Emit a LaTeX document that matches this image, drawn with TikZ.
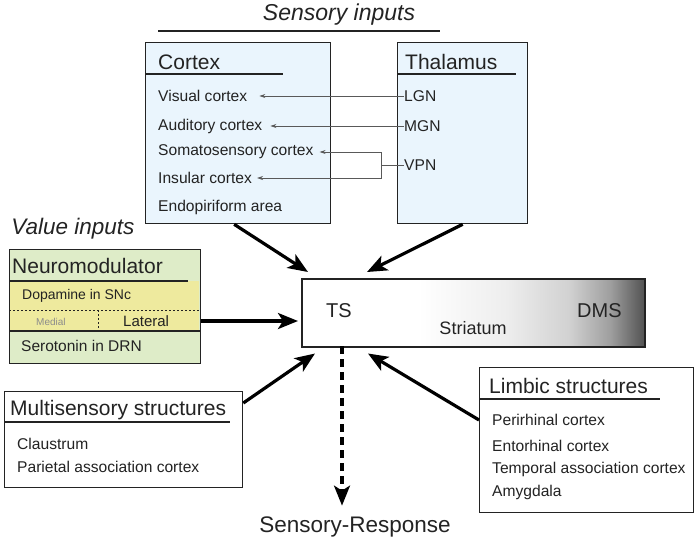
\documentclass[tikz,border=0pt]{standalone}
\usepackage{fontspec}
\setmainfont{Liberation Sans}
\usetikzlibrary{arrows.meta}
\definecolor{cortexblue}{RGB}{234,245,253}
\definecolor{modgreen}{RGB}{222,236,200}
\definecolor{dayellow}{RGB}{238,234,158}
\definecolor{inkgray}{RGB}{35,35,35}
\pgfdeclarehorizontalshading{striatumshade}{100bp}{color(0bp)=(white); color(42bp)=(white); color(55bp)=(black!7); color(64bp)=(black!18); color(70bp)=(black!38); color(75bp)=(black!68); color(100bp)=(black!68)}
\newcommand{\headsize}{\fontsize{21}{24}\selectfont}
\newcommand{\itemsize}{\fontsize{15.6}{18}\selectfont}

\begin{document}
\begin{tikzpicture}[x=1pt, y=-1pt, font=\itemsize, text=inkgray,
    box/.style={draw=inkgray, line width=1.3pt, anchor=north west, inner sep=0pt},
    head/.style={anchor=west, inner sep=0pt, font=\headsize},
    entry/.style={anchor=west, inner sep=0pt},
    rule/.style={draw=inkgray, line width=1.2pt},
    thinarrow/.style={draw=black!65, line width=0.7pt, -{Stealth[length=6pt,width=4pt]}},
    bigarrow/.style={draw=black, line width=3.2pt, -{Stealth[length=20pt,width=16pt,inset=5pt]}}]
    \useasboundingbox (0,0) rectangle (700,547);

    % Sensory inputs
    \node[font=\fontsize{23}{26}\selectfont\itshape] (sensin) at (339,15) {Sensory inputs};
    \draw[rule] (158,31) -- (440,31);

    % Cortex box
    \node[box, fill=cortexblue, minimum width=185pt, minimum height=181pt] (cortex) at (145,42) {};
    \node[head] (ctxhead) at (158,62) {Cortex};
    \draw[rule] (145,74) -- (283,74);
    \node[entry] (visual) at (158,96) {Visual cortex};
    \node[entry] (auditory) at (158,126) {Auditory cortex};
    \node[entry] (somato) at (158,152) {Somatosensory cortex};
    \node[entry] (insular) at (158,178) {Insular cortex};
    \node[entry] (endopir) at (158,207) {Endopiriform area};

    % Thalamus box
    \node[box, fill=cortexblue, minimum width=130pt, minimum height=181pt] (thalamus) at (397,42) {};
    \node[head] (thalhead) at (405,62) {Thalamus};
    \draw[rule] (397,74) -- (516,74);
    \node[entry] (lgn) at (404,96) {LGN};
    \node[entry] (mgn) at (404,126) {MGN};
    \node[entry] (vpn) at (404,165) {VPN};

    % Thalamic relays
    \draw[thinarrow] (lgn.west) -- ([xshift=12pt]visual.east);
    \draw[thinarrow] (mgn.west) -- ([xshift=8pt]auditory.east);
    \coordinate (vpnjoin) at (381,165);
    \draw[draw=black!65, line width=0.7pt] (vpn.west) -- (vpnjoin);
    \draw[thinarrow] (vpnjoin) |- ([xshift=6pt]somato.east);
    \draw[thinarrow] (vpnjoin) |- ([xshift=5pt]insular.east);

    % Value inputs
    \node[font=\fontsize{22.5}{26}\selectfont\itshape] (valin) at (73,229) {Value inputs};
    \node[box, fill=modgreen, minimum width=191pt, minimum height=114pt] (neuro) at (9,249) {};
    \fill[dayellow] (9.7,281) rectangle (199.3,331);
    \node[head] (neurohead) at (12,266) {Neuromodulator};
    \draw[rule] (9,281) -- (188,281);
    \draw[rule] (9,331) -- (200,331);
    \draw[draw=inkgray, line width=0.7pt, dash pattern=on 2pt off 2pt] (9,310) -- (200,310);
    \draw[draw=inkgray, line width=0.7pt, dash pattern=on 2pt off 2pt] (98,310) -- (98,331);
    \node[entry, font=\fontsize{14}{16}\selectfont] (dopamine) at (22,296) {Dopamine in SNc};
    \node[entry, font=\fontsize{10}{12}\selectfont, text=black!45] (medial) at (36,322) {Medial};
    \node[entry, font=\fontsize{15}{18}\selectfont] (lateral) at (123,321) {Lateral};
    \node[entry, font=\fontsize{15.5}{18}\selectfont] (serotonin) at (21,346) {Serotonin in DRN};

    % Striatum
    \node[box, shade, shading=striatumshade, line width=1.5pt, minimum width=343pt, minimum height=68pt] (striatum) at (301,278) {};
    \node[entry, font=\fontsize{20}{24}\selectfont] (ts) at (326,311) {TS};
    \node[entry, font=\fontsize{20}{24}\selectfont] (dms) at (577,311) {DMS};
    \node[font=\fontsize{18}{21}\selectfont, inner sep=0pt] (striatlbl) at (473,328) {Striatum};

    % Multisensory structures
    \node[box, fill=white, minimum width=238pt, minimum height=96pt] (multi) at (4,391) {};
    \node[head] (multihead) at (10,410) {Multisensory structures};
    \draw[rule] (4,422) -- (230,422);
    \node[entry] (claustrum) at (17,444) {Claustrum};
    \node[entry] (parietal) at (17,467) {Parietal association cortex};

    % Limbic structures
    \node[box, fill=white, minimum width=214pt, minimum height=145pt] (limbic) at (479,367) {};
    \node[head] (limbhead) at (489,386) {Limbic structures};
    \draw[rule] (479,399) -- (660,399);
    \node[entry] (perirhinal) at (492,420) {Perirhinal cortex};
    \node[entry] (entorhinal) at (492,446) {Entorhinal cortex};
    \node[entry] (temporal) at (492,469) {Temporal association cortex};
    \node[entry] (amygdala) at (492,492) {Amygdala};

    % Output
    \node[font=\fontsize{22.5}{26}\selectfont, inner sep=0pt] (response) at (355,527) {Sensory-Response};

    % Inputs to the striatum
    \draw[bigarrow] ([xshift=-4pt]cortex.south) -- ([shift={(7pt,6pt)}]striatum.north west);
    \draw[bigarrow] (thalamus.south) -- ([shift={(66pt,6pt)}]striatum.north west);
    \draw[bigarrow] (neuro.east |- lateral) -- ([xshift=-3pt]striatum.west |- lateral);
    \draw[bigarrow] ([yshift=-12pt]multi.north east) -- ([shift={(14pt,-6pt)}]striatum.south west);
    \draw[bigarrow] ([yshift=-53pt]limbic.north west) -- ([shift={(67pt,-6pt)}]striatum.south west);

    % Output of the striatum
    \coordinate (outtop) at (342,346);
    \draw[bigarrow, dash pattern=on 8pt off 5pt, shorten >=11pt] (outtop) -- (outtop |- response.north);
\end{tikzpicture}
\end{document}
